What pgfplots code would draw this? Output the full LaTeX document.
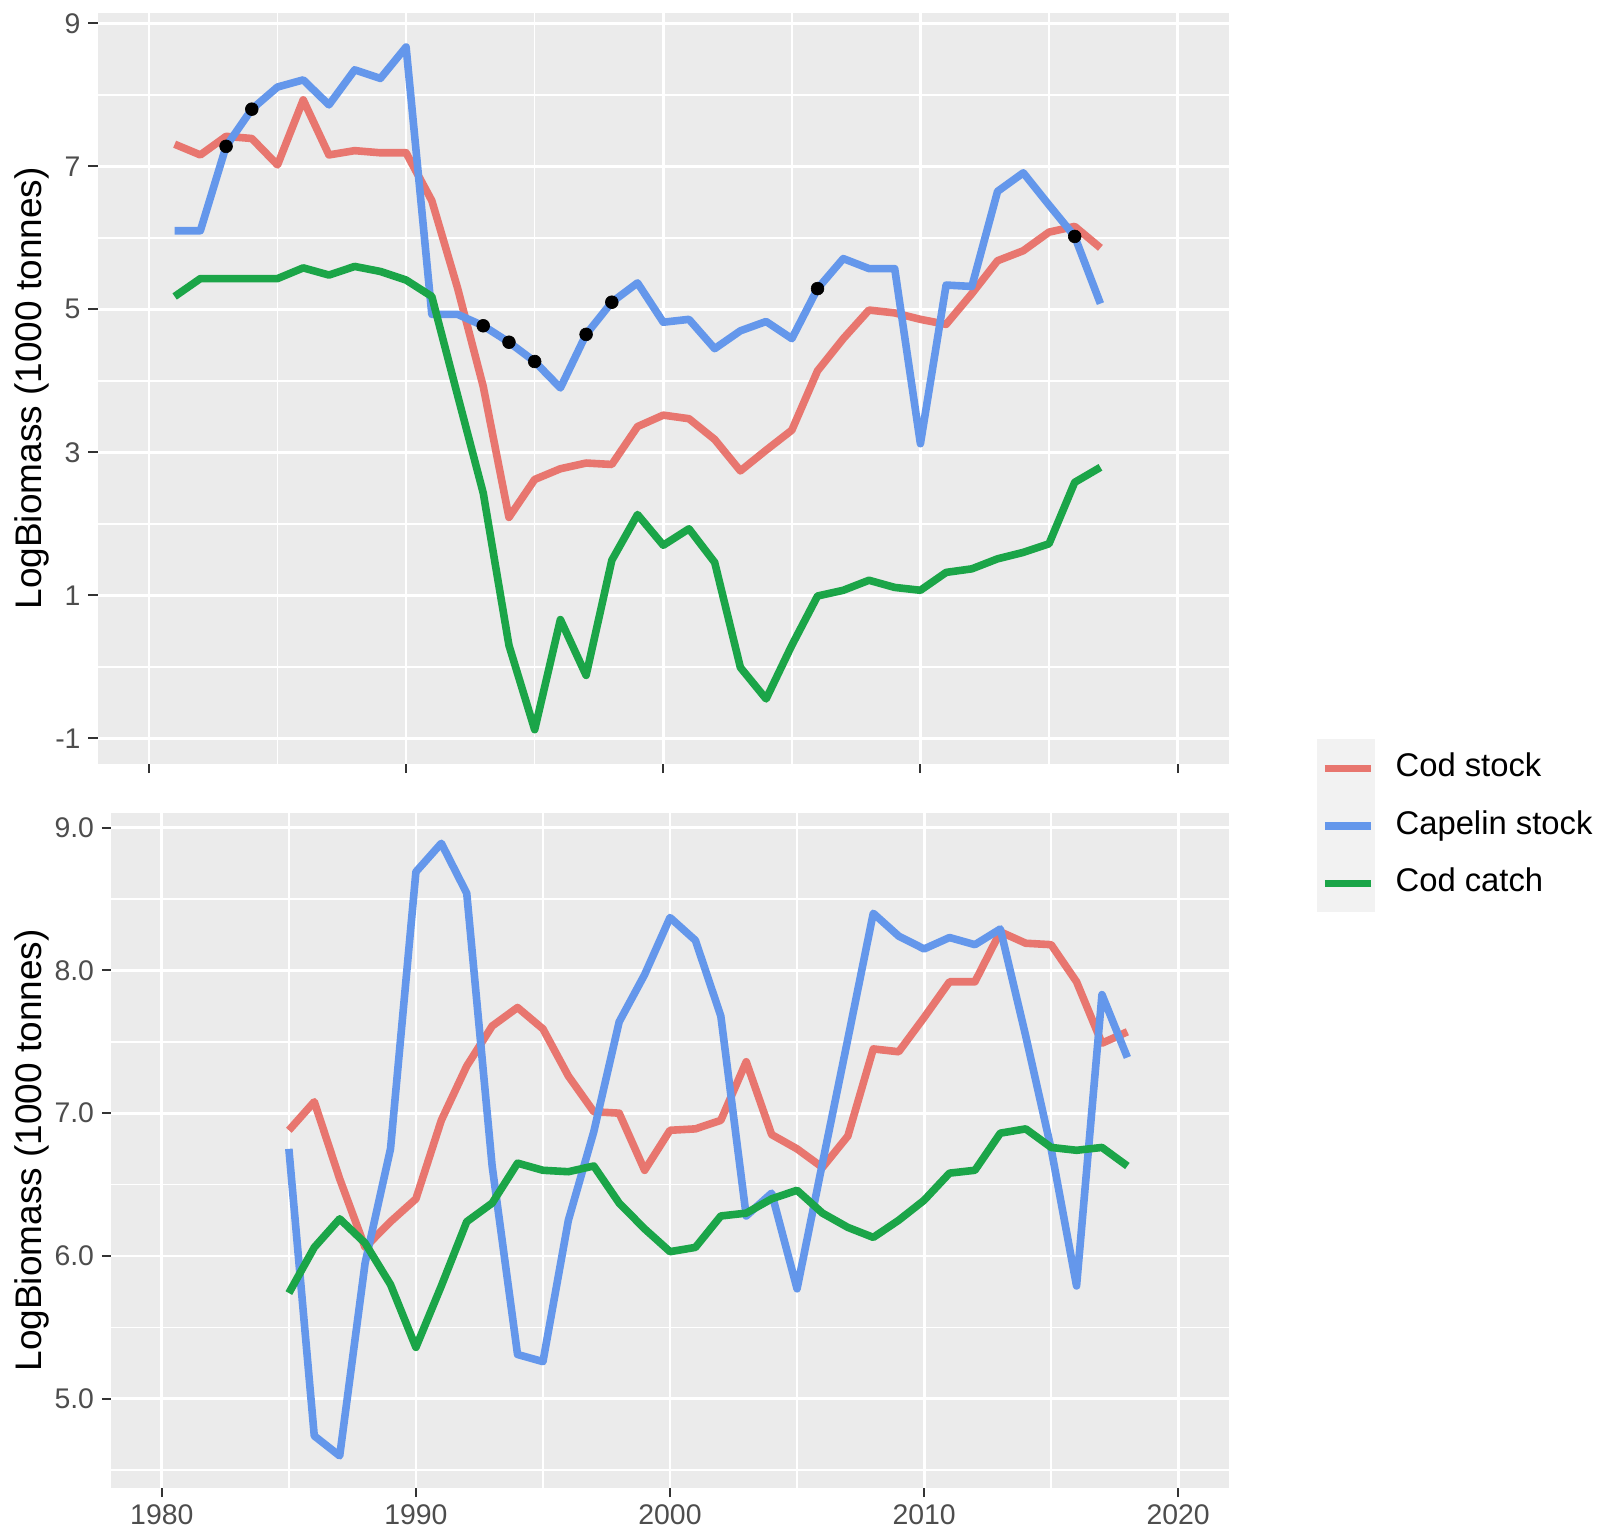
\documentclass[border=0pt]{standalone}
\usepackage{fontspec}
\setmainfont{Liberation Sans}
\usepackage{pgfplots}
\pgfplotsset{compat=1.18}
\definecolor{codstock}{HTML}{E8766F}
\definecolor{capelin}{HTML}{6497EB}
\definecolor{codcatch}{HTML}{1BA548}
\definecolor{panelbg}{HTML}{EBEBEB}
\definecolor{tickcol}{HTML}{333333}
\definecolor{labcol}{HTML}{4D4D4D}
\definecolor{keybg}{HTML}{F2F2F2}

\pgfplotstableread{
year cod capelin catch
1981 7.31 6.10 5.18
1982 7.16 6.10 5.43
1983 7.42 7.28 5.43
1984 7.39 7.80 5.43
1985 7.02 8.11 5.43
1986 7.93 8.21 5.58
1987 7.16 7.86 5.48
1988 7.22 8.35 5.60
1989 7.19 8.23 5.53
1990 7.19 8.67 5.41
1991 6.52 4.93 5.18
1992 5.30 4.93 3.80
1993 3.92 4.77 2.43
1994 2.09 4.54 0.30
1995 2.62 4.27 -0.88
1996 2.77 3.90 0.66
1997 2.85 4.65 -0.12
1998 2.83 5.10 1.49
1999 3.36 5.37 2.13
2000 3.52 4.82 1.70
2001 3.47 4.86 1.93
2002 3.18 4.45 1.46
2003 2.74 4.70 -0.01
2004 3.03 4.83 -0.45
2005 3.31 4.59 0.30
2006 4.14 5.29 0.99
2007 4.59 5.71 1.07
2008 4.99 5.57 1.21
2009 4.95 5.57 1.11
2010 4.86 3.12 1.07
2011 4.79 5.34 1.32
2012 5.22 5.32 1.37
2013 5.68 6.65 1.51
2014 5.82 6.91 1.60
2015 6.08 6.46 1.72
2016 6.16 6.02 2.58
2017 5.86 5.08 2.79
}\toptable

\pgfplotstableread{
year val
1983 7.28
1984 7.80
1993 4.77
1994 4.54
1995 4.27
1997 4.65
1998 5.10
2006 5.29
2016 6.02
}\dottable

\pgfplotstableread{
year cod capelin catch
1985 6.88 6.75 5.74
1986 7.08 4.74 6.06
1987 6.54 4.60 6.26
1988 6.06 5.95 6.09
1989 6.24 6.75 5.80
1990 6.40 8.69 5.36
1991 6.95 8.89 5.79
1992 7.33 8.54 6.24
1993 7.61 6.63 6.37
1994 7.74 5.31 6.65
1995 7.59 5.26 6.60
1996 7.26 6.25 6.59
1997 7.01 6.87 6.63
1998 7.00 7.64 6.37
1999 6.60 7.97 6.19
2000 6.88 8.37 6.03
2001 6.89 8.21 6.06
2002 6.95 7.68 6.28
2003 7.36 6.28 6.30
2004 6.85 6.44 6.40
2005 6.75 5.77 6.46
2006 6.62 6.65 6.30
2007 6.84 7.52 6.20
2008 7.45 8.40 6.13
2009 7.43 8.24 6.25
2010 7.67 8.15 6.39
2011 7.92 8.23 6.58
2012 7.92 8.18 6.60
2013 8.27 8.29 6.86
2014 8.19 7.54 6.89
2015 8.18 6.75 6.76
2016 7.92 5.79 6.74
2017 7.49 7.83 6.76
2018 7.57 7.39 6.63
}\bottable

\pgfplotsset{
  gg/.style={
    scale only axis,
    anchor=south west,
    axis background/.style={fill=panelbg},
    axis line style={draw=none},
    grid=both,
    major grid style={white, line width=1.4pt},
    minor grid style={white, line width=0.75pt},
    tick align=outside,
    major tick length=4.6pt,
    minor tick length=0pt,
    tick style={tickcol, line width=1pt},
    xtick pos=left, ytick pos=left,
    xmin=1978, xmax=2022,
    xtick={1980,1990,2000,2010,2020},
    minor xtick={1985,1995,2005,2015},
    tick label style={font=\fontsize{14.2}{16}\selectfont, text=labcol},
    xticklabel style={anchor=north, inner sep=0pt, yshift=-3.7pt},
    yticklabel style={anchor=east, inner sep=0pt, xshift=-3.7pt},
    ylabel={LogBiomass (1000 tonnes)},
    every axis y label/.style={rotate=90, anchor=base, font=\fontsize{18.5}{22}\selectfont},
    line join=round,
    every axis plot/.append style={line width=3.8pt},
  }
}

\begin{document}
\begin{tikzpicture}
\path[use as bounding box] (0,0) rectangle (804.5pt,765pt);
\fill[keybg] (658.5pt,309pt) rectangle (687.5pt,395.5pt);

\begin{axis}[gg,
  at={(48.75pt,383pt)}, width=565.75pt, height=375.65pt,
  ymin=-1.36, ymax=9.15,
  ytick={-1,1,3,5,7,9}, yticklabels={-1,1,3,5,7,9},
  minor ytick={0,2,4,6,8},
  xticklabels={},
  every axis y label/.append style={at={(axis description cs:-0.04905,0.5)}},
  legend cell align=left,
  legend image code/.code={\draw (0pt,0pt) -- (23pt,0pt);},
  legend style={at={(axis description cs:1.0813,-0.0825)}, anchor=west,
    draw=none, fill=none, inner sep=0pt, outer sep=0pt,
    row sep=13.25pt, column sep=10.5pt,
    font=\fontsize{16.4}{19}\selectfont,
    nodes={inner sep=0pt, outer sep=0pt, text height=12pt, text depth=3.5pt}},
]
\addplot[codstock, no markers] table[x=year, y=cod] {\toptable};
\addplot[capelin, no markers] table[x=year, y=capelin] {\toptable};
\addplot[codcatch, no markers] table[x=year, y=catch] {\toptable};
\addplot[only marks, mark=*, mark size=3.2pt, black, line width=0.3pt, forget plot] table[x=year, y=val] {\dottable};
\legend{Cod stock, Capelin stock, Cod catch}
\end{axis}

\begin{axis}[gg,
  at={(55.5pt,21pt)}, width=559pt, height=337.7pt,
  ymin=4.375, ymax=9.105,
  ytick={5,6,7,8,9}, yticklabels={5.0,6.0,7.0,8.0,9.0},
  minor ytick={4.5,5.5,6.5,7.5,8.5},
  xticklabels={1980,1990,2000,2010,2020},
  every axis y label/.append style={at={(axis description cs:-0.06172,0.5)}},
]
\addplot[codstock, no markers] table[x=year, y=cod] {\bottable};
\addplot[capelin, no markers] table[x=year, y=capelin] {\bottable};
\addplot[codcatch, no markers] table[x=year, y=catch] {\bottable};
\end{axis}
\end{tikzpicture}
\end{document}
